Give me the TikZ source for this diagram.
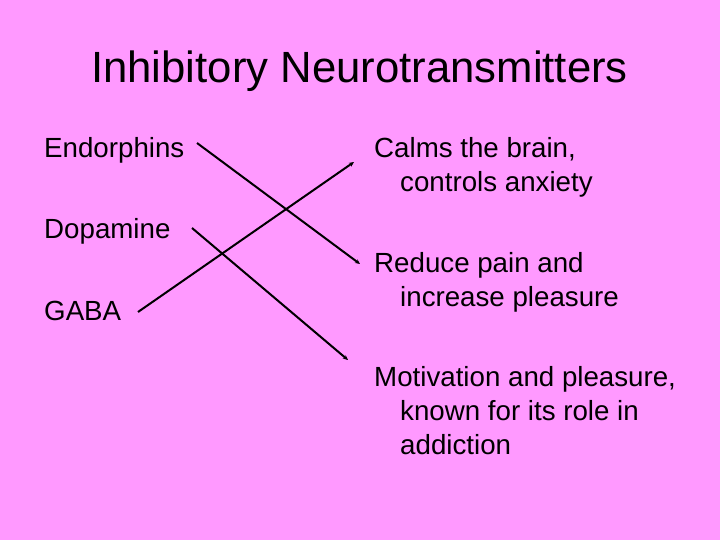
\documentclass[tikz,border=0pt]{standalone}
\usepackage{fontspec}
\setmainfont{Liberation Sans}
\usetikzlibrary{arrows.meta}
\definecolor{slidebg}{HTML}{FF99FF}
\begin{document}
\begin{tikzpicture}[x=1pt,y=-1pt,
  txt/.style={anchor=base west,inner sep=0pt,font=\fontsize{27.7}{32}\selectfont},
  link/.style={line width=2pt,-{Stealth[length=5pt,width=4.5pt]}}]
\fill[slidebg] (0,0) rectangle (720,540);
\useasboundingbox (0,0) rectangle (720,540);
\node[anchor=base,inner sep=0pt,font=\fontsize{43.7}{50}\selectfont] (title) at (359.5,83) {Inhibitory Neurotransmitters};
\node[txt] (endo) at (44,158) {Endorphins};
\node[txt] (dopa) at (44,238) {Dopamine};
\node[txt] (gaba) at (44,320) {GABA};
\node[txt] (calm1) at (374,158) {Calms the brain,};
\node[txt] (calm2) at (400,192) {controls anxiety};
\node[txt] (red1) at (374,272) {Reduce pain and};
\node[txt] (red2) at (400,306) {increase pleasure};
\node[txt] (mot1) at (374,386) {Motivation and pleasure,};
\node[txt] (mot2) at (400,420) {known for its role in};
\node[txt] (mot3) at (400,454) {addiction};
\coordinate (endoS) at (197,143);
\coordinate (redE) at (360,264);
\coordinate (dopaS) at (192,228);
\coordinate (motE) at (348,360);
\coordinate (gabaS) at (138,312);
\coordinate (calmE) at (354,162);
\draw[link] (endoS) -- (redE);
\draw[link] (dopaS) -- (motE);
\draw[link] (gabaS) -- (calmE);
\end{tikzpicture}
\end{document}
